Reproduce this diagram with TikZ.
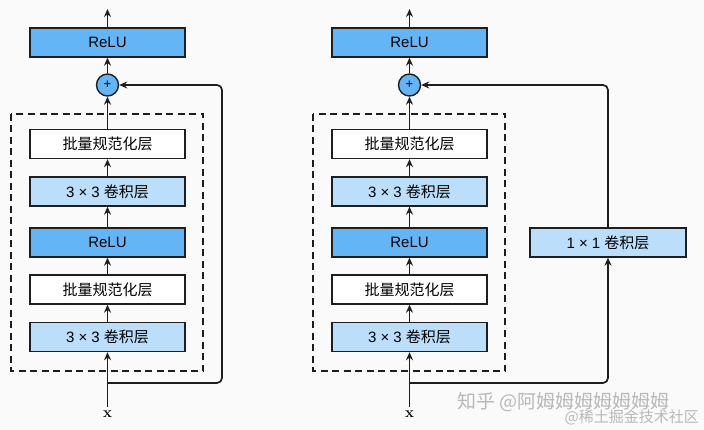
\documentclass[tikz,border=0pt]{standalone}
\usepackage{fontspec}
\newfontfamily\lat{Liberation Sans}
\newfontfamily\cjk{Noto Sans CJK SC}
\usetikzlibrary{arrows.meta}
\definecolor{reluc}{HTML}{64B5F6}
\definecolor{convc}{HTML}{BBDEFB}
\definecolor{linec}{HTML}{1E1E1E}
\definecolor{bgc}{HTML}{FAFAFA}
\definecolor{wmc}{HTML}{B8B8B8}
\newcommand{\txt}[1]{{\lat #1}}
\newcommand{\zh}[1]{{\cjk #1}}
\tikzset{
  layer/.style={draw=linec, line width=1.4pt, minimum width=155pt, minimum height=29pt, inner sep=0pt, font=\fontsize{15pt}{17pt}\selectfont\lat},
  relubox/.style={layer, fill=reluc},
  convbox/.style={layer, fill=convc},
  bnbox/.style={layer, fill=white},
  plusnode/.style={circle, draw=linec, line width=1.4pt, fill=reluc, minimum size=22pt, inner sep=0pt, font=\fontsize{13pt}{14pt}\selectfont\lat},
  conn/.style={draw=linec, line width=1.7pt, -{Stealth[length=8pt,width=7pt]}},
  dashbox/.style={draw=linec, line width=1.6pt, dash pattern=on 7pt off 4.5pt},
  xlab/.style={font=\fontsize{15pt}{16pt}\selectfont\bfseries},
  wm/.style={text=wmc, font=\fontsize{19pt}{20pt}\selectfont\cjk, inner sep=0pt}
}
\begin{document}
\begin{tikzpicture}[x=1pt,y=-1pt]
\fill[bgc] (0,0) rectangle (704,430);
\useasboundingbox (0,0) rectangle (704,430);

% ---------- left block ----------
\node[relubox] (lrelu) at (107.5,42.5) {ReLU};
\coordinate (lout) at (107.5,9);
\node[plusnode] (lplus) at (107.5,85) {+};
\node[bnbox] (lbn2) at (107.5,144) {\zh{批量规范化层}};
\node[convbox] (lconv2) at (107.5,191.5) {3 × 3 \zh{卷积层}};
\node[relubox] (lrelu1) at (107.5,242.5) {ReLU};
\node[bnbox] (lbn1) at (107.5,289.5) {\zh{批量规范化层}};
\node[convbox] (lconv1) at (107.5,337) {3 × 3 \zh{卷积层}};
\node[xlab] (lx) at (107.5,414) {x};
\coordinate (lsplit) at (107.5,383);
\coordinate (lcr) at (222,383);
\coordinate (lct) at (222,85);
\draw[dashbox] (11,114) rectangle (203,371);

\draw[conn] (lrelu.north) -- (lout);
\draw[conn] (lplus.north) -- (lrelu.south);
\draw[conn] (lbn2.north) -- (lplus.south);
\draw[conn] (lconv2.north) -- (lbn2.south);
\draw[conn] (lrelu1.north) -- (lconv2.south);
\draw[conn] (lbn1.north) -- (lrelu1.south);
\draw[conn] (lconv1.north) -- (lbn1.south);
\draw[conn] (lx.north) -- (lconv1.south);
\draw[conn, rounded corners=5pt] (lsplit) -- (lcr) -- (lct) -- (lplus.east);

% ---------- right block ----------
\node[relubox] (rrelu) at (409.5,42.5) {ReLU};
\coordinate (rout) at (409.5,9);
\node[plusnode] (rplus) at (409.5,85) {+};
\node[bnbox] (rbn2) at (409.5,144) {\zh{批量规范化层}};
\node[convbox] (rconv2) at (409.5,191.5) {3 × 3 \zh{卷积层}};
\node[relubox] (rrelu1) at (409.5,242.5) {ReLU};
\node[bnbox] (rbn1) at (409.5,289.5) {\zh{批量规范化层}};
\node[convbox] (rconv1) at (409.5,337) {3 × 3 \zh{卷积层}};
\node[xlab] (rx) at (409.5,414) {x};
\node[convbox, minimum width=156pt] (rconv11) at (608,242.5) {1 × 1 \zh{卷积层}};
\coordinate (rsplit) at (409.5,383);
\coordinate (rcr) at (608,383);
\coordinate (rct) at (608,85);
\draw[dashbox] (313,114) rectangle (505,371);

\draw[conn] (rrelu.north) -- (rout);
\draw[conn] (rplus.north) -- (rrelu.south);
\draw[conn] (rbn2.north) -- (rplus.south);
\draw[conn] (rconv2.north) -- (rbn2.south);
\draw[conn] (rrelu1.north) -- (rconv2.south);
\draw[conn] (rbn1.north) -- (rrelu1.south);
\draw[conn] (rconv1.north) -- (rbn1.south);
\draw[conn] (rx.north) -- (rconv1.south);
\draw[conn, rounded corners=5pt] (rsplit) -- (rcr) -- (rconv11.south);
\draw[conn, rounded corners=5pt] (rconv11.north) -- (rct) -- (rplus.east);

% ---------- watermarks ----------
\node[wm, anchor=west] (wm1) at (457,402) {知乎 @阿姆姆姆姆姆姆姆};
\node[wm, anchor=east, font=\fontsize{15pt}{16pt}\selectfont\cjk] (wm2) at (699,417) {@稀土掘金技术社区};
\end{tikzpicture}
\end{document}
